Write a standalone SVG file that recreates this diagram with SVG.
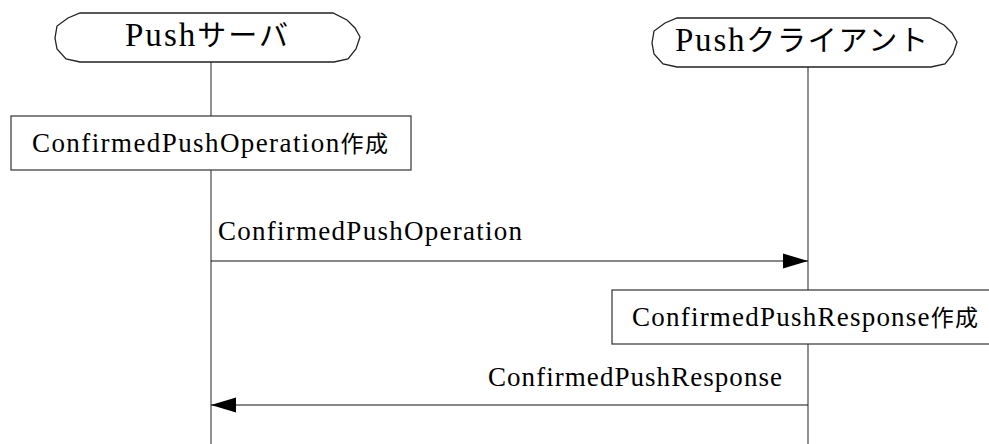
<svg xmlns="http://www.w3.org/2000/svg" width="989" height="444" viewBox="0 0 989 444">
<style>
  .hdr { fill: #fff; stroke: #222; stroke-width: 1.3; }
  .box { fill: #fff; stroke: #333; stroke-width: 1.2; }
  .life { stroke: #555; stroke-width: 1.3; fill: none; }
  .msg { stroke: #111; stroke-width: 1.2; fill: none; }
  .t { font-family: 'Liberation Serif', 'Noto Sans CJK JP', serif; fill: #000; }
  .th { font-size: 33px; }
  .tl { font-size: 27px; }
  .cj { font-size: 23px; }
</style>
<defs>
  <marker id="ah" markerWidth="25" markerHeight="16" refX="25" refY="8" orient="auto" markerUnits="userSpaceOnUse">
    <path d="M0,0.5 L25,8 L0,15.5 Z" fill="#000"/>
  </marker>
  <path id="hexshape" d="M25,0 L278,0 L292,7 L300,15 L305,24 L301,36 L293,46 L279,49 L25,49 L11,46 L2,36 L0,25 L2,13 L13,5 Z"/>
</defs>
<g id="lifelines">
  <line class="life" x1="211" y1="62" x2="211" y2="444"/>
  <line class="life" x1="808" y1="67" x2="808" y2="444"/>
</g>
<g id="server">
  <use href="#hexshape" class="hdr" x="55" y="13"/>
  <text class="t th" font-family="Liberation Serif, Noto Sans CJK JP, serif" x="125" y="46" textLength="163" lengthAdjust="spacing">Push<tspan font-size="29">サーバ</tspan></text>
</g>
<g id="client">
  <use href="#hexshape" class="hdr" x="652" y="18"/>
  <text class="t th" font-family="Liberation Serif, Noto Sans CJK JP, serif" x="675" y="51" textLength="253" lengthAdjust="spacing">Push<tspan font-size="29">クライアント</tspan></text>
</g>
<g id="create-operation">
  <rect class="box" x="11" y="116" width="400" height="54"/>
  <text class="t tl" font-family="Liberation Serif, Noto Sans CJK JP, serif" x="32" y="152" textLength="356" lengthAdjust="spacing">ConfirmedPushOperation<tspan class="cj">作成</tspan></text>
</g>
<g id="create-response">
  <rect class="box" x="612" y="290" width="400" height="54"/>
  <text class="t tl" font-family="Liberation Serif, Noto Sans CJK JP, serif" x="632" y="326" textLength="346" lengthAdjust="spacing">ConfirmedPushResponse<tspan class="cj">作成</tspan></text>
</g>
<g id="connectors">
  <line class="msg" x1="211" y1="261" x2="808" y2="261" marker-end="url(#ah)"/>
  <text class="t tl" font-family="Liberation Serif, Noto Sans CJK JP, serif" x="218" y="240" textLength="304" lengthAdjust="spacing">ConfirmedPushOperation</text>
  <line class="msg" x1="808" y1="405" x2="211" y2="405" marker-end="url(#ah)"/>
  <text class="t tl" font-family="Liberation Serif, Noto Sans CJK JP, serif" x="488" y="386" textLength="294" lengthAdjust="spacing">ConfirmedPushResponse</text>
</g>
</svg>
